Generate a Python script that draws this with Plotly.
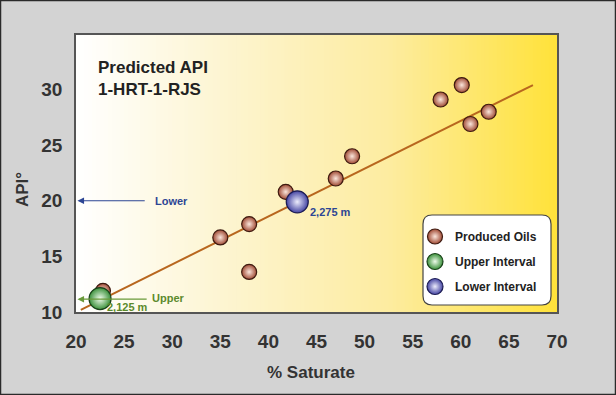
import plotly.graph_objects as go

# ---- data ----
produced_x = [22.8, 35.0, 38.0, 38.0, 41.8, 47.0, 48.7, 57.9, 60.1, 61.0, 62.9]
produced_y = [11.9, 16.7, 17.9, 13.6, 20.8, 22.0, 24.0, 29.1, 30.4, 26.9, 28.0]
upper_x = [22.5]
upper_y = [11.2]
lower_x = [43.0]
lower_y = [19.9]
trend_x = [20.5, 67.5]
trend_y = [10.2, 30.4]
x_ticks = [20, 25, 30, 35, 40, 45, 50, 55, 60, 65, 70]
y_ticks = [10, 15, 20, 25, 30]

FONT = "Liberation Sans, Arial, sans-serif"
BLUE_TXT = "#2d4694"
GREEN_TXT = "#5b8a2c"

fig = go.Figure()

fig.add_trace(go.Scatter(x=trend_x, y=trend_y, mode="lines",
                         line=dict(color="#b8661e", width=2), showlegend=False,
                         hoverinfo="skip"))
# radial gradient: gradient.color is the centre colour, marker.color the rim
fig.add_trace(go.Scatter(x=produced_x, y=produced_y, mode="markers", name="Produced Oils",
                         legendgroup="a",
                         marker=dict(size=15, color="#a04a34",
                                     gradient=dict(type="radial", color="#fbe6dc"),
                                     line=dict(color="#3e1a10", width=1.2))))
fig.add_trace(go.Scatter(x=upper_x, y=upper_y, mode="markers", name="Upper Interval",
                         legendgroup="b",
                         marker=dict(size=22, color="#3a903a",
                                     gradient=dict(type="radial", color="#eefbea"),
                                     line=dict(color="#1a421a", width=1.2))))
fig.add_trace(go.Scatter(x=lower_x, y=lower_y, mode="markers", name="Lower Interval",
                         legendgroup="c",
                         marker=dict(size=22, color="#4444a2",
                                     gradient=dict(type="radial", color="#ececfc"),
                                     line=dict(color="#1c1c52", width=1.2))))

# ---- gradient background (white -> yellow) ----
def lerp(c1, c2, t):
    return tuple(round(a + (b - a) * t) for a, b in zip(c1, c2))

stops = [(0.0, (255, 255, 255)), (0.3, (253, 245, 210)), (0.65, (253, 236, 160)),
         (1.0, (255, 226, 58))]
shapes = []
N = 120
for i in range(N):
    t = (i + 0.5) / N
    for j in range(len(stops) - 1):
        if stops[j][0] <= t <= stops[j + 1][0]:
            tt = (t - stops[j][0]) / (stops[j + 1][0] - stops[j][0])
            c = lerp(stops[j][1], stops[j + 1][1], tt)
            break
    shapes.append(dict(type="rect", xref="x domain", yref="y domain",
                       x0=i / N, x1=(i + 1) / N + 0.002, y0=0, y1=1,
                       fillcolor="rgb(%d,%d,%d)" % c, line=dict(width=0),
                       layer="below"))

# legend rounded box (paper coords)
pw, ph = 481.0, 277.0
x0, x1 = (423 - 76) / pw, (551 - 76) / pw
y0, y1 = (312 - 305) / ph, (312 - 215) / ph
rx, ry = 9 / pw, 9 / ph
path = (f"M {x0+rx},{y0} L {x1-rx},{y0} Q {x1},{y0} {x1},{y0+ry} "
        f"L {x1},{y1-ry} Q {x1},{y1} {x1-rx},{y1} L {x0+rx},{y1} "
        f"Q {x0},{y1} {x0},{y1-ry} L {x0},{y0+ry} Q {x0},{y0} {x0+rx},{y0} Z")
shapes.append(dict(type="path", xref="paper", yref="paper", path=path,
                   fillcolor="white", line=dict(color="#444", width=1.2), layer="above"))

# figure border
shapes.append(dict(type="rect", xref="paper", yref="paper",
                   x0=-75.5 / pw, x1=(616 - 76 - 0.5) / pw,
                   y0=-(83 - 0.5) / ph, y1=(277 + 35 - 0.5) / ph,
                   line=dict(color="#2a2a2a", width=1.5), fillcolor="rgba(0,0,0,0)"))

annotations = [
    dict(xref="paper", yref="paper", x=(96 - 76) / pw, y=(312 - 56) / ph,
         xanchor="left", yanchor="top", align="left", showarrow=False,
         text="<b>Predicted API<br>1-HRT-1-RJS</b>",
         font=dict(family=FONT, size=17, color="#222")),
    # Lower arrow
    dict(x=20.15, y=20.0, ax=27.3, ay=20.0, axref="x", ayref="y", xref="x", yref="y",
         text="", showarrow=True, arrowhead=2, arrowsize=1.1, arrowwidth=1.2,
         arrowcolor="#2d4694"),
    dict(x=29.9, y=20.0, xref="x", yref="y", text="<b>Lower</b>", showarrow=False,
         font=dict(family=FONT, size=11, color=BLUE_TXT)),
    # Upper arrow
    dict(x=20.15, y=11.15, ax=27.5, ay=11.15, axref="x", ayref="y", xref="x", yref="y",
         text="", showarrow=True, arrowhead=2, arrowsize=1.1, arrowwidth=1.2,
         arrowcolor="#6a9a3a"),
    dict(x=29.6, y=11.3, xref="x", yref="y", text="<b>Upper</b>", showarrow=False,
         font=dict(family=FONT, size=11, color=GREEN_TXT)),
    dict(x=25.4, y=10.45, xref="x", yref="y", text="<b>2,125 m</b>", showarrow=False,
         font=dict(family=FONT, size=11, color=GREEN_TXT)),
    dict(x=46.5, y=19.0, xref="x", yref="y", text="<b>2,275 m</b>", showarrow=False,
         font=dict(family=FONT, size=11, color=BLUE_TXT)),
    # axis titles
    dict(xref="paper", yref="paper", x=(311 - 76) / pw, y=-(372 - 312) / ph,
         text="<b>% Saturate</b>", showarrow=False, xanchor="center", yanchor="middle",
         font=dict(family=FONT, size=17, color="#333")),
    dict(xref="paper", yref="paper", x=-(76 - 22) / pw, y=(312 - 190) / ph,
         text="<b>API°</b>", showarrow=False, textangle=-90,
         xanchor="center", yanchor="middle",
         font=dict(family=FONT, size=17, color="#333")),
]

fig.update_layout(
    width=616, height=395,
    margin=dict(l=76, r=59, t=35, b=83),
    paper_bgcolor="#d3d3d3", plot_bgcolor="white",
    font=dict(family=FONT, color="#333"),
    shapes=shapes, annotations=annotations,
    showlegend=True,
    legend=dict(x=(542 - 76) / pw, y=(312 - 222) / ph, xanchor="right", yanchor="top",
                bgcolor="rgba(0,0,0,0)", borderwidth=0, traceorder="grouped",
                tracegroupgap=6, itemwidth=30,
                font=dict(family=FONT, size=12, color="#222", weight="bold")),
    xaxis=dict(range=[20, 70], tickvals=x_ticks, showgrid=False, zeroline=False,
               showline=True, linecolor="#555", linewidth=1.5, mirror=True,
               ticks="", ticklabelstandoff=11, automargin=False,
               tickfont=dict(family=FONT, size=19, color="#333", weight="bold")),
    yaxis=dict(range=[10, 34.9], tickvals=y_ticks, showgrid=False, zeroline=False,
               showline=True, linecolor="#555", linewidth=1.5, mirror=True,
               ticks="", ticklabelstandoff=8, automargin=False,
               tickfont=dict(family=FONT, size=19, color="#333", weight="bold")),
)

fig.write_html("out.html", config={"displayModeBar": False},
               post_script="document.body.style.margin='0';document.body.style.padding='0';")
